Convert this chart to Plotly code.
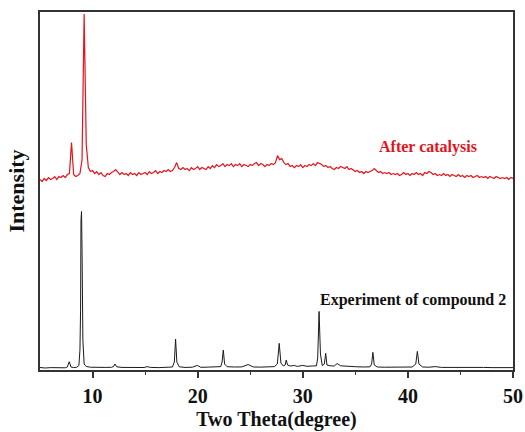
import numpy as np
import plotly.graph_objects as go

# Powder XRD patterns, intensity in arbitrary units

# Experimental pattern of compound 2 (2θ, intensity)
exp_two_theta = [
    5.0, 5.5, 6.0, 6.5, 7.0, 7.4, 7.6, 7.78, 7.95, 8.2, 8.5, 8.7, 8.8, 8.86, 8.9, 8.95,
    9.0, 9.08, 9.2, 9.4, 9.8, 10.5, 11.2, 11.8, 12.0, 12.13, 12.3, 12.8, 13.5, 14.2,
    14.9, 15.19, 15.5, 16.3, 17.0, 17.6, 17.78, 17.9, 18.02, 18.25, 18.8, 19.5, 19.96,
    20.3, 21.0, 21.6, 22.2, 22.32, 22.44, 22.56, 22.8, 23.5, 24.2, 24.8, 25.3, 26.0,
    26.7, 27.3, 27.58, 27.76, 27.92, 28.15, 28.32, 28.43, 28.55, 28.8, 29.2, 29.5,
    30.0, 30.4, 30.9, 31.3, 31.42, 31.55, 31.68, 31.85, 32.05, 32.18, 32.3, 32.6, 33.0,
    33.27, 33.6, 34.2, 35.0, 35.8, 36.4, 36.55, 36.67, 36.8, 37.1, 37.8, 38.6, 39.5,
    40.4, 40.75, 40.9, 41.05, 41.4, 42.0, 42.6, 43.2, 44.0, 45.0, 45.6, 46.3, 47.2,
    48.0, 48.8, 49.5, 50.0,
]
exp_intensity = [
    2.5, 2.0, 2.4, 2.1, 2.3, 2.2, 3.0, 8.3, 3.0, 2.4, 2.8, 4.5, 20, 60, 150, 159,
    120, 30, 6, 3.5, 2.8, 2.5, 2.6, 2.7, 3.5, 6, 3.2, 2.6, 2.4, 2.6,
    2.5, 3.4, 2.6, 2.4, 2.7, 3.0, 8, 31, 8, 3.2, 2.6, 2.8, 4.6,
    2.7, 2.9, 2.8, 3.4, 8, 20, 6, 3.3, 3.0, 3.1, 5.5, 3.0, 2.9,
    3.2, 3.4, 6, 26.7, 7, 4.0, 5, 10, 5, 4.0, 4.5, 3.6,
    4.6, 3.7, 4.0, 4.2, 12, 58.7, 16, 4.5, 6, 16.7, 5, 4.2, 4.0,
    6.5, 4.2, 3.6, 3.3, 3.0, 3.2, 6, 17.7, 5, 3.0, 2.8, 2.9, 2.6,
    3.0, 6, 18.7, 6, 3.0, 2.8, 3.4, 2.6, 2.7, 2.5, 3.0, 2.4, 2.6,
    2.4, 2.6, 2.3, 2.4,
]

# Pattern after catalysis, sampled every 0.2° from 5 to 50
cat_two_theta = np.round(np.arange(5.0, 50.0001, 0.2), 1)
cat_intensity = [
    10, 8, 11, 9, 12, 10, 11, 13, 10, 13,
    12, 14, 12, 15, 16, 47, 15, 13, 14, 16,
    30, 176, 45, 22, 18, 19, 16, 18, 15, 17,
    14, 13, 16, 15, 17, 18, 20, 17, 15, 17,
    15, 16, 14, 17, 15, 16, 14, 17, 15, 16,
    17, 15, 18, 16, 17, 19, 16, 18, 17, 19,
    18, 20, 18, 19, 22, 27, 21, 20, 22, 20,
    21, 19, 22, 20, 21, 23, 20, 22, 21, 20,
    23, 21, 24, 22, 25, 23, 24, 26, 23, 25,
    24, 26, 23, 25, 24, 26, 23, 25, 24, 23,
    25, 24, 26, 27, 24, 26, 25, 23, 25, 24,
    26, 25, 27, 34, 30, 31, 27, 25, 26, 23,
    24, 22, 24, 23, 25, 22, 24, 23, 25, 24,
    26, 24, 27, 26, 25, 23, 24, 22, 23, 21,
    20, 22, 21, 23, 22, 21, 23, 20, 21, 19,
    18, 19, 17, 18, 16, 18, 17, 18, 19, 21,
    19, 17, 18, 16, 17, 16, 17, 15, 16, 15,
    16, 14, 15, 17, 15, 16, 14, 16, 15, 17,
    15, 16, 14, 17, 16, 18, 17, 15, 16, 14,
    15, 14, 16, 14, 15, 13, 15, 14, 13, 15,
    13, 14, 12, 14, 13, 14, 12, 13, 14, 12,
    13, 12, 13, 11, 13, 12, 11, 13, 12, 11,
    12, 11, 12, 10, 12, 11,
]
cat_offset = 181  # vertical stacking offset for the upper pattern

x_ticks = [10, 20, 30, 40, 50]

FONT = "Liberation Serif, Times New Roman, serif"

fig = go.Figure()
fig.add_trace(go.Scatter(
    x=exp_two_theta, y=exp_intensity, mode="lines",
    line=dict(color="#1a1a1a", width=1), name="Experiment of compound 2",
))
fig.add_trace(go.Scatter(
    x=cat_two_theta, y=[v + cat_offset for v in cat_intensity], mode="lines",
    line=dict(color="#e3141c", width=1.2), name="After catalysis",
))

fig.add_annotation(x=41.9, y=224, xref="x", yref="y", text="After catalysis",
                   showarrow=False,
                   font=dict(family=FONT, size=16, color="#e3141c", weight="bold"))
fig.add_annotation(x=40.5, y=70, xref="x", yref="y", text="Experiment of compound 2",
                   showarrow=False,
                   font=dict(family=FONT, size=16, color="#111111", weight="bold"))

fig.update_layout(
    width=525, height=432,
    margin=dict(l=40, r=12, t=12, b=62, autoexpand=False),
    paper_bgcolor="white", plot_bgcolor="white",
    showlegend=False,
    font=dict(family=FONT, color="#111111"),
)
fig.update_xaxes(
    range=[5, 50], tickvals=x_ticks, ticks="outside", ticklen=6, tickwidth=1.5,
    tickcolor="#333333", ticklabelstandoff=1,
    minor=dict(tickvals=[15, 25, 35, 45], ticks="outside", ticklen=3, tickwidth=1.2,
               tickcolor="#333333"),
    showline=True, linecolor="#333333", linewidth=1.5, mirror=True,
    showgrid=False, zeroline=False, automargin=False,
    tickfont=dict(family=FONT, size=20, color="#111111", weight="bold"),
    title=dict(text="Two Theta(degree)",
               font=dict(family=FONT, size=20, color="#111111", weight="bold"),
               standoff=6),
)
fig.update_yaxes(
    range=[0, 359], showticklabels=False, ticks="",
    showline=True, linecolor="#333333", linewidth=1.5, mirror=True,
    showgrid=False, zeroline=False, automargin=False,
    title=dict(text="Intensity",
               font=dict(family=FONT, size=22, color="#111111", weight="bold"),
               standoff=8),
)

fig.write_html("out.html")
